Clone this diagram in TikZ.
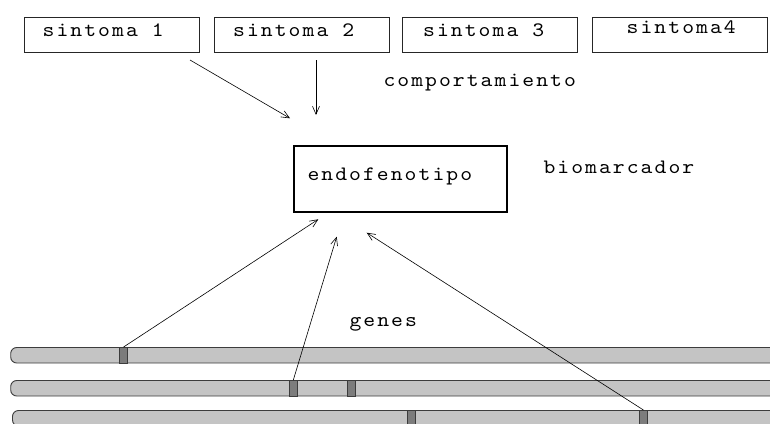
\documentclass[tikz,border=0pt]{standalone}
\usepackage{fontspec}
\usetikzlibrary{arrows.meta}
\definecolor{barfill}{HTML}{C4C4C4}
\definecolor{bandfill}{HTML}{7C7C7C}
\definecolor{barline}{HTML}{3C3C3C}
\newfontfamily\monofam[LetterSpace=10,FakeStretch=1.1]{lmmono10-regular.otf}
\newcommand{\monolbl}{\monofam\fontsize{20.5}{20.5}\selectfont}
\begin{document}
\begin{tikzpicture}[x=1pt,y=-1pt,
  lbl/.style={inner sep=0pt, anchor=base west, font=\monolbl, text=black},
  sbox/.style={draw=black!85, line width=0.8pt, inner sep=0pt, minimum width=175pt, minimum height=35.5pt, anchor=north west},
  ebox/.style={draw=black, line width=2.6pt, inner sep=0pt, minimum width=213pt, minimum height=66pt, anchor=north west},
  bar/.style={draw=barline, fill=barfill, line width=0.9pt, rounded corners=6pt},
  band/.style={draw=barline, fill=bandfill, line width=0.9pt, inner sep=0pt, minimum width=8.5pt, minimum height=15.5pt},
  conn/.style={draw=black, line width=0.6pt, -{Straight Barb[length=8pt,width=7pt]}}]
\useasboundingbox (0,0) rectangle (770,423);
\clip (0,0) rectangle (770,423);
% symptom boxes
\node[sbox] (s1) at (24,16.5) {};
\node[sbox] (s2) at (214.3,16.5) {};
\node[sbox] (s3) at (402.3,16.5) {};
\node[sbox] (s4) at (591.7,16.5) {};
\node[lbl] (t1) at (42.5,36.7) {sintoma 1};
\node[lbl] (t2) at (233,36.7) {sintoma 2};
\node[lbl] (t3) at (423,36.7) {sintoma 3};
\node[lbl] (t4) at (626.5,33) {sintoma4};
\node[lbl] (comp) at (383.3,86) {comportamiento};
% endophenotype
\node[ebox] (endo) at (292.5,144.5) {};
\node[lbl] (endot) at (307.3,180) {endofenotipo};
\node[lbl] (bio) at (543.3,173.3) {biomarcador};
\node[lbl] (genes) at (349.3,326) {genes};
% chromosomes
\draw[bar] (790,347.5) -- (10.7,347.5) -- (10.7,363) -- (790,363);
\draw[bar] (790,380.5) -- (10.7,380.5) -- (10.7,396) -- (790,396);
\draw[bar] (790,410.5) -- (12.5,410.5) -- (12.5,426) -- (790,426);
\node[band] (b1) at (123.5,355.25) {};
\node[band] (b2) at (293.3,388.25) {};
\node[band] (b3) at (351.5,388.25) {};
\node[band] (b4) at (411.5,418.25) {};
\node[band] (b5) at (643.5,418.25) {};
% arrow end points
\coordinate (a1s) at (190,60);
\coordinate (a1e) at (290,118.3);
\coordinate (a2s) at (316,60);
\coordinate (a2e) at (316,115);
\coordinate (g1e) at (318.3,219.3);
\coordinate (g2e) at (336.7,236.7);
\coordinate (g3e) at (366.7,232.7);
\draw[conn] (a1s) -- (a1e);
\draw[conn] (a2s) -- (a2e);
\draw[conn] (b1.north) -- (g1e);
\draw[conn] (b2.north) -- (g2e);
\draw[conn] (b5.north) -- (g3e);
\end{tikzpicture}
\end{document}
